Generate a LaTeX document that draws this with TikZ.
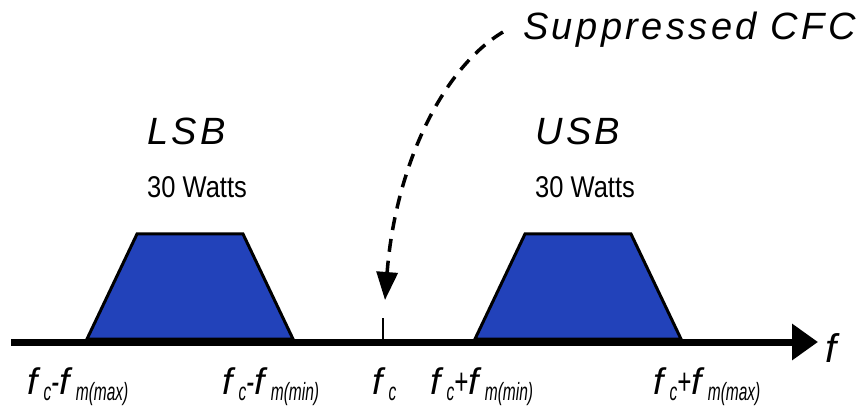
\documentclass[tikz,border=0pt]{standalone}
\usepackage{fontspec}
\setmainfont{Liberation Sans}
\usepackage{graphicx}
\usetikzlibrary{arrows.meta}
\definecolor{bandblue}{RGB}{34,66,186}
\newcommand{\fsub}[1]{f\,\raisebox{-6pt}{\fontsize{25}{25}\selectfont\scalebox{0.62}[1]{#1}}}
\newcommand{\fband}[2]{\fsub{c}\scalebox{0.65}[1]{#1}\fsub{#2}}
\newcommand{\narrow}[1]{\scalebox{0.85}[1]{#1}}

\begin{document}
\begin{tikzpicture}[x=1pt,y=-1pt,inner sep=0pt,
  band/.style={draw,line width=3pt,fill=bandblue},
  sbtitle/.style={anchor=base west,font=\fontsize{38}{38}\selectfont\itshape\addfontfeature{LetterSpace=9}},
  power/.style={anchor=base west,font=\fontsize{30}{30}\selectfont},
  freq/.style={anchor=base west,font=\fontsize{37}{37}\selectfont\itshape}]
\useasboundingbox (0,0) rectangle (862,406);
% sidebands
\foreach \x in {87,475}{\draw[band] (\x,339)--++(50,-105)--++(106,0)--++(50,105)--cycle;}
% frequency axis
\coordinate (a0) at (11,342);
\coordinate (a1) at (818,342);
\draw[line width=7pt,-{Triangle[length=26pt,width=35pt]}] (a0)--(a1);
\node[freq,font=\fontsize{40}{40}\selectfont\itshape] (f) at (825,362) {f};
\coordinate (fc) at (383,340);
\draw[line width=1.5pt] (fc)--++(0,-22) coordinate (fctop);
% labels
\node[sbtitle] (cfc) at (523,40) {Suppressed CFC};
\node[sbtitle] (lsb) at (147,145) {LSB};
\node[sbtitle] (usb) at (535,145) {USB};
\node[power] (lw) at (147,198) {\narrow{30 Watts}};
\node[power] (uw) at (535,198) {\narrow{30 Watts}};
\coordinate (cfcend) at (503,32);
\coordinate (cfctip) at (385,300);
\draw[line width=3.5pt,dash pattern=on 13pt off 9pt,-{Triangle[length=28pt,width=21pt]}]
  (cfcend) .. controls (440,70) and (395,170) .. (cfctip);
\node[freq] (lmax) at (27,394) {\fband{-}{m(max)}};
\node[freq] (lmin) at (222,394) {\fband{-}{m(min)}};
\node[freq] (fcl) at (372,394) {\fsub{c}};
\node[freq] (umin) at (430,394) {\fband{+}{m(min)}};
\node[freq] (umax) at (653,394) {\fband{+}{m(max)}};
\end{tikzpicture}
\end{document}
